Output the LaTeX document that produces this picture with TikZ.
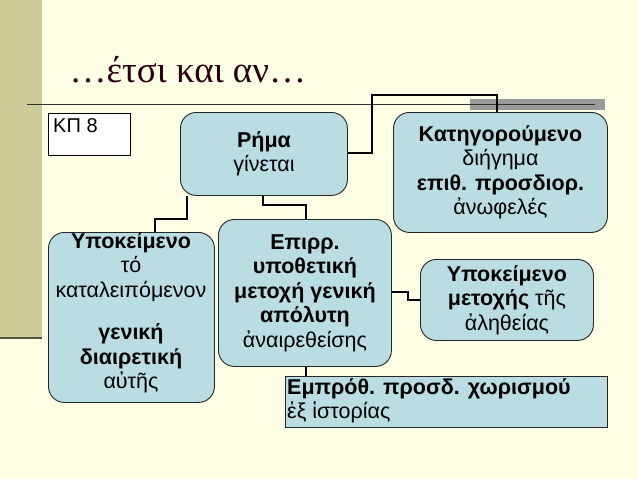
\documentclass[tikz,border=0pt]{standalone}
\usepackage{fontspec}
\setmainfont{Liberation Sans}
\newfontfamily\titlefont{Liberation Serif}
\begin{document}
\begin{tikzpicture}[x=1pt,y=-1pt,
  rbox/.style={draw=black!85,fill=boxc,rounded corners=16pt,line width=0.9pt,align=center,inner sep=0pt,font=\fontsize{21.5}{24.5}\selectfont},
  conn/.style={draw=black,line width=1.8pt}]
\definecolor{bg}{HTML}{FFFFE6}
\definecolor{bar}{HTML}{CCCC99}
\definecolor{boxc}{HTML}{B9DDE2}
\useasboundingbox (0,0) rectangle (638,479);
\fill[bg] (0,0) rectangle (638,479);
\fill[bar] (0,0) rectangle (42,338);
\draw[black!60!bar,line width=1.5pt] (0,338) -- (42,338);
\node[anchor=west,text=black!80!purple,font=\titlefont\fontsize{37}{40}\selectfont] (title) at (66,70) {…έτσι και αν…};
\fill[black!40] (470,99) rectangle (605,110);
\draw[black!80,line width=1pt] (27,104) -- (595,104);
\node[draw=black,fill=white,minimum width=82pt,minimum height=42pt,anchor=north west,line width=0.6pt] (kp) at (48,113) {};
\node[anchor=north west,inner sep=0pt,font=\fontsize{20}{22}\selectfont] at (53,118) {ΚΠ 8};
\node[rbox,minimum width=167pt,minimum height=83pt,anchor=north west] (rima) at (180,112) {\textbf{Ρήμα}\\γίνεται};
\node[rbox,minimum width=214pt,minimum height=120pt,anchor=north west] (kat) at (393,112) {\textbf{Κατηγορούμενο}\\διήγημα\\\textbf{επιθ. προσδιορ.}\\ἀνωφελές};
\node[rbox,minimum width=166pt,minimum height=170pt,anchor=north west] (ypo) at (48,232) {};
\node[align=center,anchor=north,inner sep=0pt,font=\fontsize{21.5}{24.5}\selectfont] at (131,232) {\textbf{Υποκείμενο}\\τό\\καταλειπόμενον\\[18pt]\textbf{γενική}\\\textbf{διαιρετική}\\αὐτῆς};
\node[rbox,minimum width=173pt,minimum height=147pt,anchor=north west] (epirr) at (218,219) {\textbf{Επιρρ.}\\\textbf{υποθετική}\\\textbf{μετοχή γενική}\\\textbf{απόλυτη}\\ἀναιρεθείσης};
\node[rbox,minimum width=173pt,minimum height=81pt,anchor=north west] (ypo2) at (420,259) {\textbf{Υποκείμενο}\\\textbf{μετοχής} τῆς\\ἀληθείας};
\node[draw=black!85,fill=boxc,line width=0.9pt,minimum width=322pt,minimum height=51pt,anchor=north west] (emp) at (285,376) {};
\node[anchor=north west,align=left,inner sep=0pt,font=\fontsize{21.5}{24}\selectfont] at (287,378) {\textbf{Εμπρόθ. προσδ. χωρισμού}\\ἐξ ἱστορίας};
\draw[conn] (rima.east |- 0,153) -- (372,153) -- (372,95) -- (497,95) -- (kat.north -| 497,0);
\draw[conn] (rima.south -| 187,0) -- (187,219) -- (155,219) -- (ypo.north -| 155,0);
\draw[conn] (rima.south -| 263,0) -- (263,205) -- (306,205) -- (epirr.north -| 306,0);
\draw[conn] (epirr.east |- 0,292) -- (408,292) -- (408,300) -- (ypo2.west |- 0,300);
\draw[conn] (epirr.south -| 306,0) -- (emp.north -| 306,0);
\end{tikzpicture}
\end{document}
